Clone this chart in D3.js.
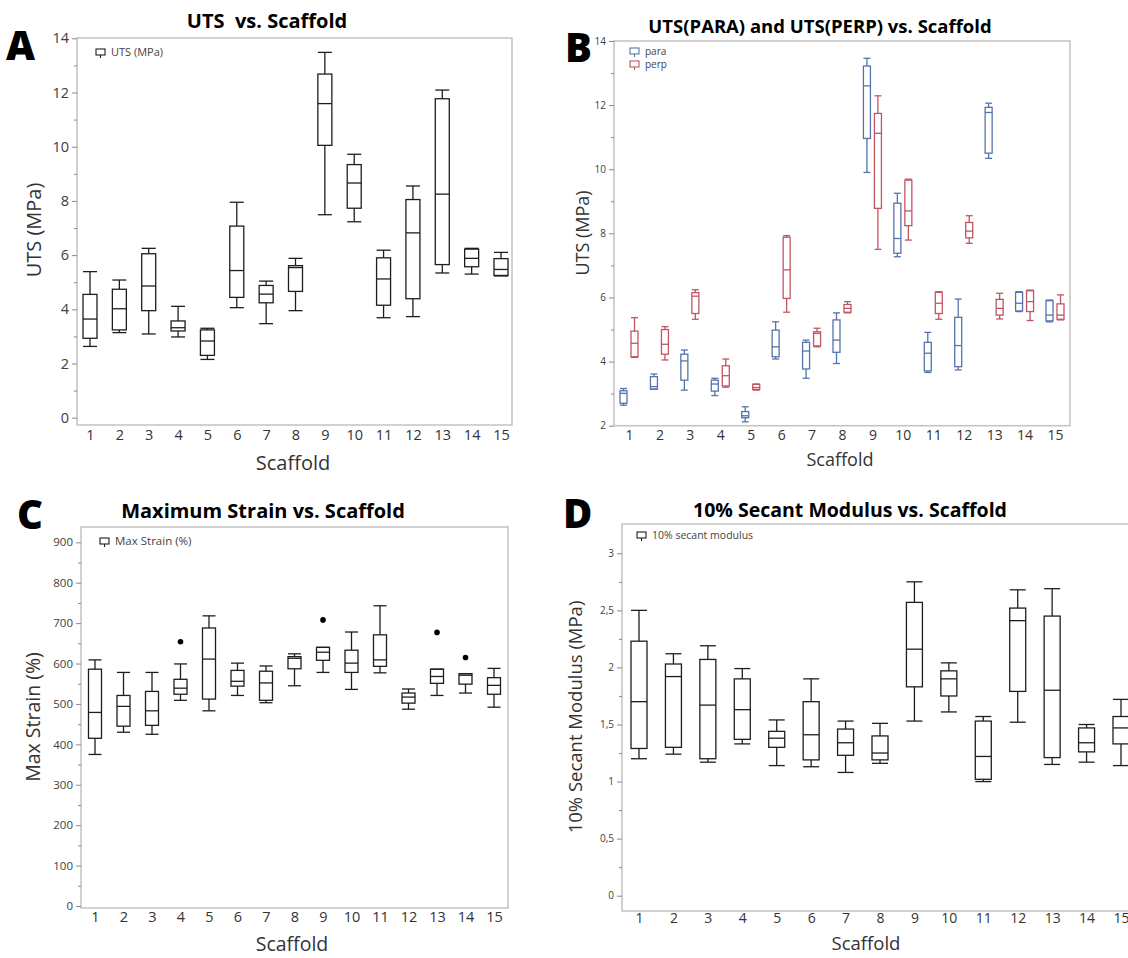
<!DOCTYPE html>
<html><head><meta charset="utf-8">
<script src="https://cdn.jsdelivr.net/npm/d3@7"></script>
<style>body{margin:0;background:#fff}svg{display:block}</style>
</head><body>
<svg id="c" width="1128" height="958"></svg>
<script>
const scaffolds = [1,2,3,4,5,6,7,8,9,10,11,12,13,14,15];

// Panel A – UTS (MPa)
const utsMin = [2.63,3.14,3.09,2.98,2.15,4.06,3.47,3.95,7.49,7.23,3.69,3.73,5.34,5.30,5.23];
const utsQ1  = [2.93,3.24,3.95,3.20,2.30,4.44,4.24,4.66,10.05,7.73,4.15,4.39,5.65,5.57,5.25];
const utsMed = [3.64,4.02,4.86,3.32,2.83,5.43,4.56,5.54,11.59,8.66,5.12,6.82,8.25,5.88,5.47];
const utsQ3  = [4.55,4.74,6.05,3.57,3.24,7.07,4.88,5.61,12.68,9.34,5.90,8.05,11.77,6.22,5.87];
const utsMax = [5.39,5.08,6.25,4.11,3.30,7.95,5.04,5.88,13.48,9.72,6.18,8.55,12.09,6.25,6.10];

// Panel B – para / perp
const paraMin = [2.64,3.14,3.11,2.94,2.12,4.08,3.48,3.94,9.90,7.27,3.66,3.74,10.34,5.56,5.24];
const paraQ1  = [2.70,3.14,3.42,3.08,2.25,4.15,3.77,4.29,10.96,7.38,3.71,3.84,10.50,5.58,5.27];
const paraMed = [3.01,3.22,4.02,3.30,2.31,4.46,4.33,4.67,12.60,7.84,4.26,4.50,11.77,5.82,5.45];
const paraQ3  = [3.09,3.53,4.23,3.42,2.44,4.98,4.60,5.30,13.22,8.94,4.60,5.38,11.93,6.16,5.90];
const paraMax = [3.16,3.61,4.36,3.48,2.59,5.24,4.67,5.52,13.46,9.25,4.91,5.95,12.06,6.18,5.92];
const perpMin = [4.13,4.05,5.32,3.20,3.11,5.54,4.46,5.52,7.50,7.79,5.32,7.69,5.33,5.28,5.30];
const perpQ1  = [4.15,4.23,5.50,3.24,3.13,5.97,4.49,5.54,8.78,8.24,5.50,7.86,5.45,5.56,5.32];
const perpMed = [4.57,4.54,6.04,3.56,3.19,6.86,4.88,5.66,11.12,8.70,5.82,8.07,5.66,5.87,5.45];
const perpQ3  = [4.95,5.00,6.15,3.87,3.29,7.88,4.93,5.78,11.74,9.66,6.16,8.34,5.94,6.21,5.80];
const perpMax = [5.37,5.09,6.24,4.08,3.30,7.93,5.04,5.87,12.29,9.69,6.18,8.55,6.13,6.23,6.08];

// Panel C – Max Strain (%)
const strMin = [375,430,425,509,483,521,503,545,578,536,577,487,521,527,492];
const strQ1  = [415,445,447,524,512,544,509,587,608,578,593,502,551,549,524];
const strMed = [479,494,483,539,611,556,552,613,628,601,609,517,568,571,546];
const strQ3  = [586,521,531,561,688,583,581,617,640,633,671,527,586,575,565];
const strMax = [609,578,578,599,718,601,594,624,640,678,743,537,586,575,588];
const strOutScaffold = [4,9,13,14];
const strOutValue = [654,708,677,615];

// Panel D – 10% secant modulus (MPa)
const modMin = [1.20,1.24,1.17,1.33,1.14,1.13,1.08,1.16,1.53,1.61,1.00,1.52,1.15,1.17,1.14];
const modQ1  = [1.29,1.30,1.20,1.37,1.30,1.19,1.23,1.19,1.83,1.75,1.02,1.79,1.21,1.26,1.33];
const modMed = [1.70,1.92,1.67,1.63,1.38,1.41,1.34,1.25,2.16,1.90,1.22,2.41,1.80,1.34,1.47];
const modQ3  = [2.23,2.03,2.07,1.90,1.44,1.70,1.46,1.40,2.57,1.97,1.53,2.52,2.45,1.47,1.57];
const modMax = [2.50,2.12,2.19,1.99,1.54,1.90,1.53,1.51,2.75,2.04,1.57,2.68,2.69,1.50,1.72];

const yTicksA = [0,2,4,6,8,10,12,14];
const yMinorA = [1,3,5,7,9,11,13];
const yTicksB = [2,4,6,8,10,12,14];
const yMinorB = [3,5,7,9,11,13];
const yTicksC = [0,100,200,300,400,500,600,700,800,900];
const yMinorC = [50,150,250,350,450,550,650,750,850];
const yTicksD = [0,0.5,1,1.5,2,2.5,3];
const yMinorD = [0.25,0.75,1.25,1.75,2.25,2.75];

const FONT = "'Open Sans','Noto Sans',sans-serif";
const BLACK = '#1e1e1e', BLUE = '#5474ad', RED = '#c25562';
const svg = d3.select('#c');

function legendGlyph(g, x, y, color){
  g.append('rect').attr('x',x).attr('y',y-3).attr('width',9).attr('height',6)
    .attr('fill','none').attr('stroke',color).attr('stroke-width',1.1);
  g.append('line').attr('x1',x+4.5).attr('x2',x+4.5).attr('y1',y+3).attr('y2',y+6)
    .attr('stroke',color).attr('stroke-width',1.1);
}

function drawBoxes(g, x, y, mins, q1s, meds, q3s, maxs, offset, w, color){
  scaffolds.forEach((s,i)=>{
    const cx = x(s)+offset;
    const bg = g.append('g').attr('stroke',color).attr('stroke-width',1.3).attr('fill','none');
    bg.append('line').attr('x1',cx).attr('x2',cx).attr('y1',y(maxs[i])).attr('y2',y(q3s[i]));
    bg.append('line').attr('x1',cx).attr('x2',cx).attr('y1',y(q1s[i])).attr('y2',y(mins[i]));
    bg.append('line').attr('x1',cx-w/2).attr('x2',cx+w/2).attr('y1',y(maxs[i])).attr('y2',y(maxs[i]));
    bg.append('line').attr('x1',cx-w/2).attr('x2',cx+w/2).attr('y1',y(mins[i])).attr('y2',y(mins[i]));
    bg.append('rect').attr('x',cx-w/2).attr('width',w).attr('y',y(q3s[i]))
      .attr('height',Math.max(0.5,y(q1s[i])-y(q3s[i])));
    bg.append('line').attr('x1',cx-w/2).attr('x2',cx+w/2).attr('y1',y(meds[i])).attr('y2',y(meds[i]));
  });
}

function panel(c){
  const g = svg.append('g');
  const x = d3.scaleLinear().domain([1,15]).range([c.x1,c.x15]);
  const y = d3.scaleLinear().domain(c.yDom).range(c.yRange);
  g.append('rect').attr('x',c.fl).attr('y',c.ft).attr('width',c.fr-c.fl).attr('height',c.fb-c.ft)
    .attr('fill','none').attr('stroke','#c2c2c2').attr('stroke-width',1.5);
  const ya = g.append('g').attr('transform',`translate(${c.fl},0)`)
    .call(d3.axisLeft(y).tickValues(c.yTicks).tickFormat(c.fmt).tickSize(5).tickPadding(3));
  ya.select('.domain').remove();
  ya.selectAll('line').attr('stroke','#8a8a8a');
  ya.selectAll('text').attr('font-family',FONT).attr('font-size',c.ytf).attr('fill','#404040');
  const ym = g.append('g').attr('transform',`translate(${c.fl},0)`)
    .call(d3.axisLeft(y).tickValues(c.yMinor).tickFormat('').tickSize(3));
  ym.select('.domain').remove();
  ym.selectAll('line').attr('stroke','#8a8a8a');
  const xa = g.append('g').attr('transform',`translate(0,${c.fb})`)
    .call(d3.axisBottom(x).tickValues(scaffolds).tickFormat(d3.format('d')).tickSize(0).tickPadding(c.xpad));
  xa.select('.domain').remove();
  xa.selectAll('text').attr('font-family',FONT).attr('font-size',c.xtf).attr('fill','#333');
  // titles
  g.append('text').attr('x',c.titleX).attr('y',c.titleY).attr('text-anchor','middle')
    .attr('font-family',FONT).attr('font-weight',700).attr('font-size',c.titleSize).attr('fill','#000')
    .attr('xml:space','preserve').text(c.title);
  g.append('text').attr('x',c.letterX).attr('y',c.letterY)
    .attr('font-family',FONT).attr('font-weight',800).attr('font-size',40).attr('fill','#000').text(c.letter);
  g.append('text').attr('x',c.xlabX).attr('y',c.xlabY).attr('text-anchor','middle')
    .attr('font-family',FONT).attr('font-size',c.labSize).attr('fill','#333').text('Scaffold');
  g.append('text').attr('transform',`translate(${c.ylabX},${c.ylabY}) rotate(-90)`).attr('text-anchor','middle')
    .attr('font-family',FONT).attr('font-size',c.labSize).attr('fill','#333').text(c.ylab);
  // legend
  c.legend.forEach((L,k)=>{
    legendGlyph(g, c.legX, c.legY + k*13, L.color);
    g.append('text').attr('x',c.legX+15).attr('y',c.legY+k*13+4)
      .attr('font-family',FONT).attr('font-size',c.legSize).attr('fill','#444').text(L.name);
  });
  return {g,x,y};
}

// A
{
  const p = panel({x1:90,x15:501,yDom:[0,14],yRange:[417.7,38.3],fl:77,fr:512,ft:38,fb:425,
    yTicks:yTicksA,yMinor:yMinorA,fmt:d3.format('d'),ytf:14.5,xtf:14.5,xpad:5,
    title:'UTS  vs. Scaffold',titleX:267,titleY:28,titleSize:20,letter:'A',letterX:6,letterY:60,
    xlabX:293,xlabY:470,ylab:'UTS (MPa)',ylabX:41,ylabY:230,labSize:20,
    legend:[{name:'UTS (MPa)',color:BLACK}],legX:96,legY:52,legSize:11});
  drawBoxes(p.g,p.x,p.y,utsMin,utsQ1,utsMed,utsQ3,utsMax,0,14,BLACK);
}
// B
{
  const p = panel({x1:629,x15:1055,yDom:[2,14],yRange:[425.7,41],fl:614,fr:1070,ft:41,fb:425.7,
    yTicks:yTicksB,yMinor:yMinorB,fmt:d3.format('d'),ytf:10,xtf:14,xpad:4,
    title:'UTS(PARA) and UTS(PERP) vs. Scaffold',titleX:820,titleY:33,titleSize:18.5,letter:'B',letterX:565,letterY:62,
    xlabX:840,xlabY:466,ylab:'UTS (MPa)',ylabX:589,ylabY:233,labSize:18,
    legend:[{name:'para',color:BLUE},{name:'perp',color:RED}],legX:630,legY:51,legSize:10});
  drawBoxes(p.g,p.x,p.y,paraMin,paraQ1,paraMed,paraQ3,paraMax,-5.5,7,BLUE);
  drawBoxes(p.g,p.x,p.y,perpMin,perpQ1,perpMed,perpQ3,perpMax,5.5,7,RED);
}
// C
{
  const p = panel({x1:95,x15:494,yDom:[0,900],yRange:[906,542.3],fl:81,fr:508,ft:527,fb:908,
    yTicks:yTicksC,yMinor:yMinorC,fmt:d3.format('d'),ytf:11.5,xtf:14.5,xpad:4,
    title:'Maximum Strain vs. Scaffold',titleX:263,titleY:518,titleSize:20,letter:'C',letterX:17,letterY:529,
    xlabX:292,xlabY:951,ylab:'Max Strain (%)',ylabX:40,ylabY:717,labSize:19.5,
    legend:[{name:'Max Strain (%)',color:BLACK}],legX:100,legY:541,legSize:11.5});
  drawBoxes(p.g,p.x,p.y,strMin,strQ1,strMed,strQ3,strMax,0,13,BLACK);
  p.g.selectAll('circle.out').data(strOutScaffold).join('circle').attr('class','out')
    .attr('cx',d=>p.x(d)).attr('cy',(d,i)=>p.y(strOutValue[i])).attr('r',2.8).attr('fill','#000');
}
// D
{
  const fmtD = d => String(d).replace('.',',');
  const p = panel({x1:639,x15:1121,yDom:[0,3],yRange:[895.7,553.3],fl:622,fr:1140,ft:524,fb:911,
    yTicks:yTicksD,yMinor:yMinorD,fmt:fmtD,ytf:10,xtf:14,xpad:2,
    title:'10% Secant Modulus vs. Scaffold',titleX:850,titleY:517,titleSize:19.5,letter:'D',letterX:563,letterY:528,
    xlabX:866,xlabY:950,ylab:'10% Secant Modulus (MPa)',ylabX:582,ylabY:717,labSize:18.5,
    legend:[{name:'10% secant modulus',color:BLACK}],legX:637,legY:535,legSize:10.5});
  drawBoxes(p.g,p.x,p.y,modMin,modQ1,modMed,modQ3,modMax,0,16,BLACK);
}
</script>
</body></html>
